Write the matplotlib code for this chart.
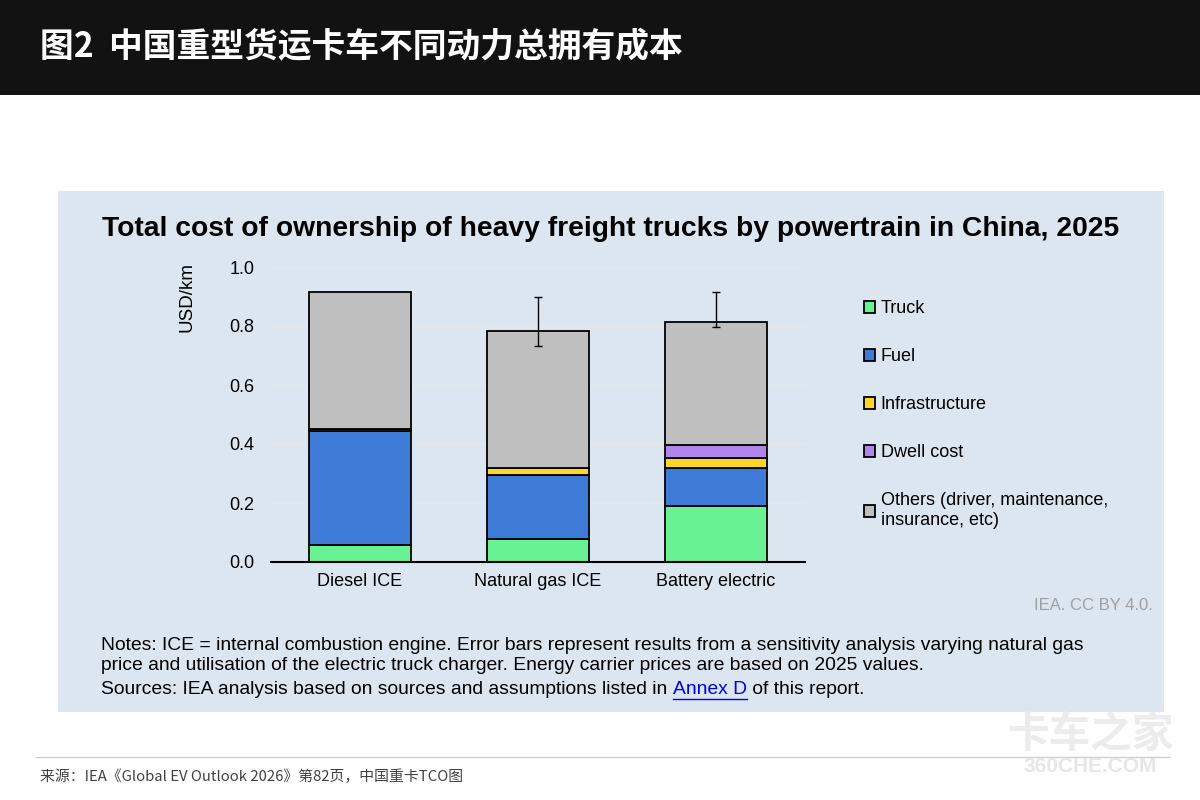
import matplotlib
matplotlib.use("Agg")
import matplotlib.pyplot as plt
from matplotlib.patches import Rectangle
import numpy as np

# ---------------- data ----------------
categories = ["Diesel ICE", "Natural gas ICE", "Battery electric"]
components = ["Truck", "Fuel", "Infrastructure", "Dwell cost",
              "Others (driver, maintenance,\ninsurance, etc)"]
truck = [0.058, 0.077, 0.189]
fuel = [0.386, 0.218, 0.128]
infrastructure = [0.007, 0.022, 0.037]
dwell = [0.0, 0.0, 0.043]
others = [0.463, 0.466, 0.415]
err_low = [np.nan, 0.733, 0.797]
err_high = [np.nan, 0.899, 0.914]
yticks = [0.0, 0.2, 0.4, 0.6, 0.8, 1.0]
colors = ["#69f293", "#3d7bd6", "#ffd52a", "#b186ea", "#bfbfbf"]

header = "图2  中国重型货运卡车不同动力总拥有成本"
chart_title = "Total cost of ownership of heavy freight trucks by powertrain in China, 2025"
notes1 = "Notes: ICE = internal combustion engine. Error bars represent results from a sensitivity analysis varying natural gas"
notes2 = "price and utilisation of the electric truck charger. Energy carrier prices are based on 2025 values."
src_a = "Sources: IEA analysis based on sources and assumptions listed in "
src_link = "Annex D"
src_b = " of this report."
credit = "IEA. CC BY 4.0."
footer = "来源：IEA《Global EV Outlook 2026》第82页，中国重卡TCO图"

SANS = ["Liberation Sans", "DejaVu Sans"]
CJK = ["Noto Sans CJK SC", "DejaVu Sans"]

fig = plt.figure(figsize=(12, 8), dpi=100)
fig.patch.set_facecolor("white")

# header band
fig.add_artist(Rectangle((0, 1 - 95 / 800), 1, 95 / 800, transform=fig.transFigure,
                         facecolor="#121212", edgecolor="none", zorder=0))
fig.text(40 / 1200, 1 - 47 / 800, header, color="white", fontsize=24.3, fontweight="bold",
         family=CJK, va="center", ha="left")

# light panel
fig.add_artist(Rectangle((58 / 1200, 1 - 712 / 800), (1164 - 58) / 1200, (712 - 191) / 800,
                         transform=fig.transFigure, facecolor="#dce6f1", edgecolor="none", zorder=0))

fig.text(611 / 1200, 1 - 229 / 800, chart_title, fontsize=20.3, fontweight="bold",
         family=SANS, ha="center", va="center")

# axes
ax = fig.add_axes([271 / 1200, 1 - 562 / 800, (805 - 271) / 1200, (562 - 267) / 800])
ax.set_facecolor("none")
x = np.arange(len(categories))
width = 0.573
series = [truck, fuel, infrastructure, dwell, others]
bottom = np.zeros(len(categories))
handles = []
for vals, col, lab in zip(series, colors, components):
    vals = np.array(vals)
    b = ax.bar(x, vals, width, bottom=bottom, color=col, edgecolor="black",
               linewidth=1.3, label=lab, zorder=3)
    handles.append(b)
    bottom = bottom + vals
totals = bottom
lo = totals - np.array(err_low)
hi = np.array(err_high) - totals
mask = ~np.isnan(lo)
ax.errorbar(x[mask], totals[mask], yerr=[lo[mask], hi[mask]], fmt="none",
            ecolor="black", elinewidth=1.0, capsize=2.6, capthick=1.0, zorder=4)

ax.set_xlim(-0.5, 2.5)
ax.set_ylim(0, 1.0)
ax.set_yticks(yticks)
ax.set_yticklabels([f"{v:.1f}" for v in yticks], family=SANS, fontsize=13)
ax.set_xticks(x)
ax.set_xticklabels(categories, family=SANS, fontsize=13)
ax.tick_params(axis="both", length=0, pad=8)
ax.tick_params(axis="y", pad=12)
for s in ["left", "right", "top"]:
    ax.spines[s].set_visible(False)
ax.spines["bottom"].set_linewidth(1.5)
ax.spines["bottom"].set_zorder(5)
ax.yaxis.grid(True, color="#eae6e6", linewidth=1.0, zorder=0)
ax.set_axisbelow(True)
ax.text(-0.158, 1.018, "USD/km", rotation=90, transform=ax.transAxes, family=SANS,
        fontsize=13.5, ha="center", va="top")

# legend
leg = fig.legend(handles=handles, labels=components, loc="upper left",
                 bbox_to_anchor=(857 / 1200, 1 - 293 / 800), frameon=False,
                 prop={"family": SANS, "size": 13}, handlelength=0.62, handleheight=0.62,
                 handletextpad=0.3, labelspacing=1.72, borderaxespad=0)
for h in leg.legend_handles:
    h.set_linewidth(1.3)

fig.text(1153 / 1200, 1 - 606 / 800, credit, fontsize=12, color="#a0a0a0", family=SANS,
         ha="right", va="center")

# notes
NFS = 13.9
fig.text(101 / 1200, 1 - 645 / 800, notes1, fontsize=NFS, family=SANS, va="center")
fig.text(101 / 1200, 1 - 666 / 800, notes2, fontsize=NFS, family=SANS, va="center")
t1 = fig.text(101 / 1200, 1 - 689 / 800, src_a, fontsize=NFS, family=SANS, va="center")
fig.canvas.draw()
r = fig.canvas.get_renderer()
bb = t1.get_window_extent(r)
x1 = bb.x1 / fig.bbox.width
t2 = fig.text(x1, 1 - 689 / 800, src_link, fontsize=NFS, family=SANS, va="center", color="#0000ee")
bb2 = t2.get_window_extent(r)
fig.add_artist(plt.Line2D([bb2.x0 / fig.bbox.width, bb2.x1 / fig.bbox.width],
                          [(bb2.y0 - 1) / fig.bbox.height] * 2, color="#0000ee", linewidth=1.0,
                          transform=fig.transFigure))
fig.text(bb2.x1 / fig.bbox.width, 1 - 689 / 800, src_b, fontsize=NFS, family=SANS, va="center")

# footer
fig.add_artist(plt.Line2D([36 / 1200, 1170 / 1200], [1 - 757 / 800] * 2, color="#d0d0d0",
                          linewidth=1.0, transform=fig.transFigure))
fig.text(40 / 1200, 1 - 777 / 800, footer, fontsize=10.7, family=CJK, color="#404040", va="center")
# watermark
fig.text(1090 / 1200, 1 - 735 / 800, "卡车之家", fontsize=30, family=CJK, fontweight="bold",
         color="#ececec", ha="center", va="center")
fig.text(1090 / 1200, 1 - 766 / 800, "360CHE.COM", fontsize=15, family=SANS, fontweight="bold",
         color="#e6e6e6", ha="center", va="center")

fig.savefig("out.png", dpi=100, facecolor=fig.get_facecolor())
